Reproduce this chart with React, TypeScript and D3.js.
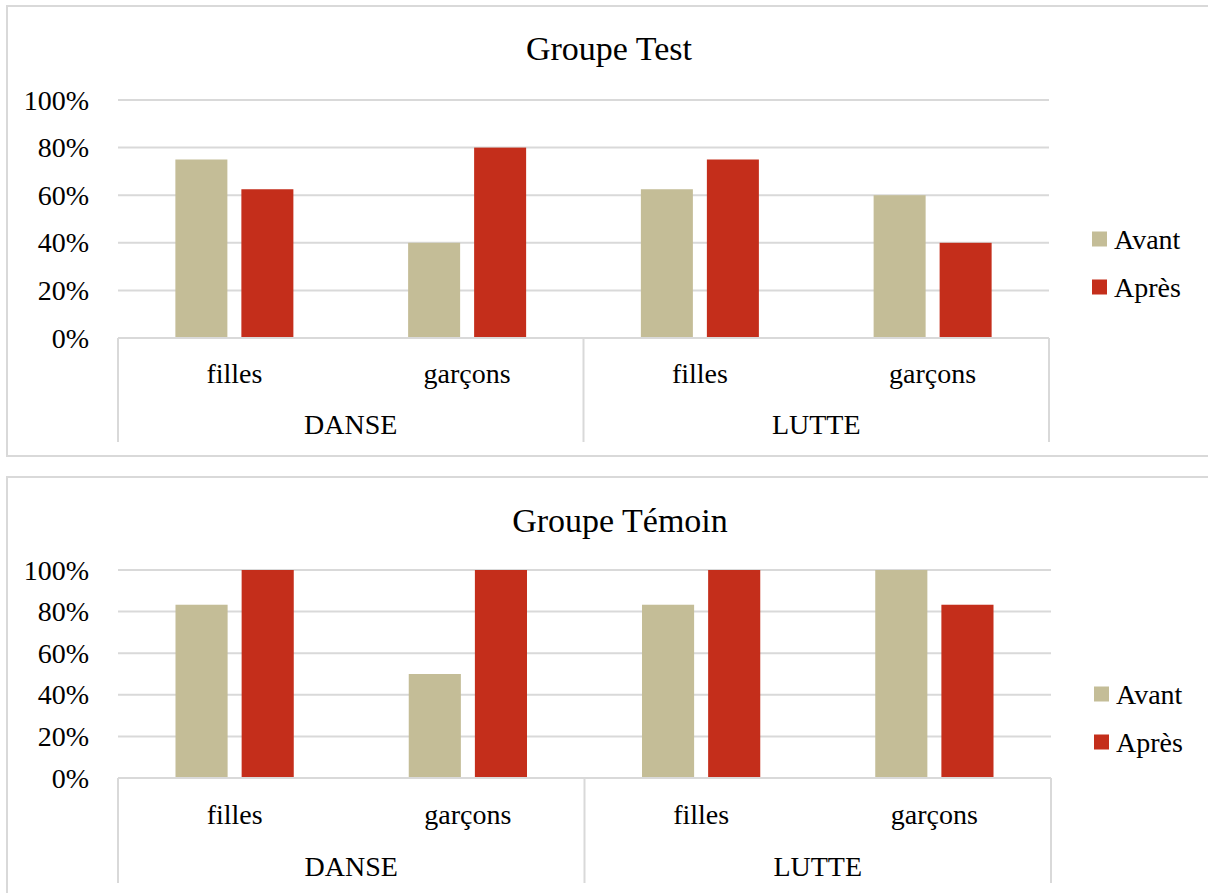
import React from "react";
import * as d3 from "d3";

const groups = ["DANSE", "LUTTE"];
const subCategories = ["filles", "garçons"];
const seriesNames = ["Avant", "Après"];
const seriesColors = ["#C4BD97", "#C42E1B"];
const yTicks = [0, 20, 40, 60, 80, 100];

const testAvant = [75, 40, 62.5, 60];
const testApres = [62.5, 80, 75, 40];
const temoinAvant = [83.3, 50, 83.3, 100];
const temoinApres = [100, 100, 100, 83.3];

const FONT = "'Liberation Serif', 'Times New Roman', serif";
const GRID = "#D9D9D9";

type PanelProps = {
  title: string;
  avant: number[];
  apres: number[];
  top: number;
  height: number;
  plotLeft: number;
  plotRight: number;
  yTop: number;
  yBottom: number;
  axisBottom: number;
  subY: number;
  groupY: number;
  titleX: number;
  titleY: number;
  legendX: number;
  legendY: number[];
};

function Panel(p: PanelProps) {
  const cats = groups.flatMap((g) => subCategories.map((s) => g + "|" + s));
  const x0 = d3.scaleBand<string>().domain(cats).range([p.plotLeft, p.plotRight]).paddingInner(0).paddingOuter(0);
  const bw = x0.bandwidth();
  const cluster = bw * 0.507;
  const x1 = d3
    .scaleBand<string>()
    .domain(seriesNames)
    .range([(bw - cluster) / 2, (bw + cluster) / 2])
    .paddingInner(0.212)
    .paddingOuter(0);
  const y = d3.scaleLinear().domain([0, 100]).range([p.yBottom, p.yTop]);
  const gx = d3.scaleBand<string>().domain(groups).range([p.plotLeft, p.plotRight]);
  const values = [p.avant, p.apres];

  return (
    <g>
      <rect x={7} y={p.top} width={1230} height={p.height} fill="#fff" stroke={GRID} strokeWidth={2} />
      <text x={p.titleX} y={p.titleY} textAnchor="middle" dominantBaseline="central" fontSize={34} fontFamily={FONT} fill="#000">
        {p.title}
      </text>
      {yTicks.map((t) => (
        <g key={t}>
          {t > 0 && <line x1={p.plotLeft} x2={p.plotRight} y1={y(t)} y2={y(t)} stroke={GRID} strokeWidth={2} />}
          <text x={89} y={y(t)} textAnchor="end" dominantBaseline="central" fontSize={28} fontFamily={FONT} fill="#000">
            {t}%
          </text>
        </g>
      ))}
      {cats.map((c, ci) =>
        seriesNames.map((s, si) => {
          const v = values[si][ci];
          return (
            <rect
              key={c + s}
              x={(x0(c) as number) + (x1(s) as number)}
              y={y(v)}
              width={x1.bandwidth()}
              height={y(0) - y(v)}
              fill={seriesColors[si]}
            />
          );
        })
      )}
      <line x1={p.plotLeft} x2={p.plotRight} y1={y(0)} y2={y(0)} stroke={GRID} strokeWidth={2} />
      {[p.plotLeft, ...groups.map((g) => (gx(g) as number) + gx.bandwidth())].map((xv, i) => (
        <line key={i} x1={xv} x2={xv} y1={y(0)} y2={p.axisBottom} stroke={GRID} strokeWidth={2} />
      ))}
      {cats.map((c) => (
        <text
          key={c}
          x={(x0(c) as number) + bw / 2}
          y={p.subY}
          textAnchor="middle"
          dominantBaseline="central"
          fontSize={28}
          fontFamily={FONT}
          fill="#000"
        >
          {c.split("|")[1]}
        </text>
      ))}
      {groups.map((g) => (
        <text
          key={g}
          x={(gx(g) as number) + gx.bandwidth() / 2}
          y={p.groupY}
          textAnchor="middle"
          dominantBaseline="central"
          fontSize={28}
          fontFamily={FONT}
          fill="#000"
        >
          {g}
        </text>
      ))}
      {seriesNames.map((s, i) => (
        <g key={s}>
          <rect x={p.legendX} y={p.legendY[i] - 7.5} width={15} height={15} fill={seriesColors[i]} />
          <text x={p.legendX + 22} y={p.legendY[i]} dominantBaseline="central" fontSize={28} fontFamily={FONT} fill="#000">
            {s}
          </text>
        </g>
      ))}
    </g>
  );
}

export default function App() {
  return (
    <svg width={1208} height={893} style={{ position: "absolute", left: 0, top: 0, background: "#fff" }}>
      <rect x={0} y={0} width={1208} height={893} fill="#fff" />
      <Panel
        title="Groupe Test"
        avant={testAvant}
        apres={testApres}
        top={6}
        height={450}
        plotLeft={118}
        plotRight={1049}
        yTop={100}
        yBottom={338}
        axisBottom={442}
        subY={373}
        groupY={424}
        titleX={609}
        titleY={48}
        legendX={1092}
        legendY={[239, 287]}
      />
      <Panel
        title="Groupe Témoin"
        avant={temoinAvant}
        apres={temoinApres}
        top={477}
        height={450}
        plotLeft={118}
        plotRight={1051}
        yTop={570}
        yBottom={778}
        axisBottom={883}
        subY={814}
        groupY={866}
        titleX={620}
        titleY={520}
        legendX={1094}
        legendY={[694, 742]}
      />
    </svg>
  );
}
